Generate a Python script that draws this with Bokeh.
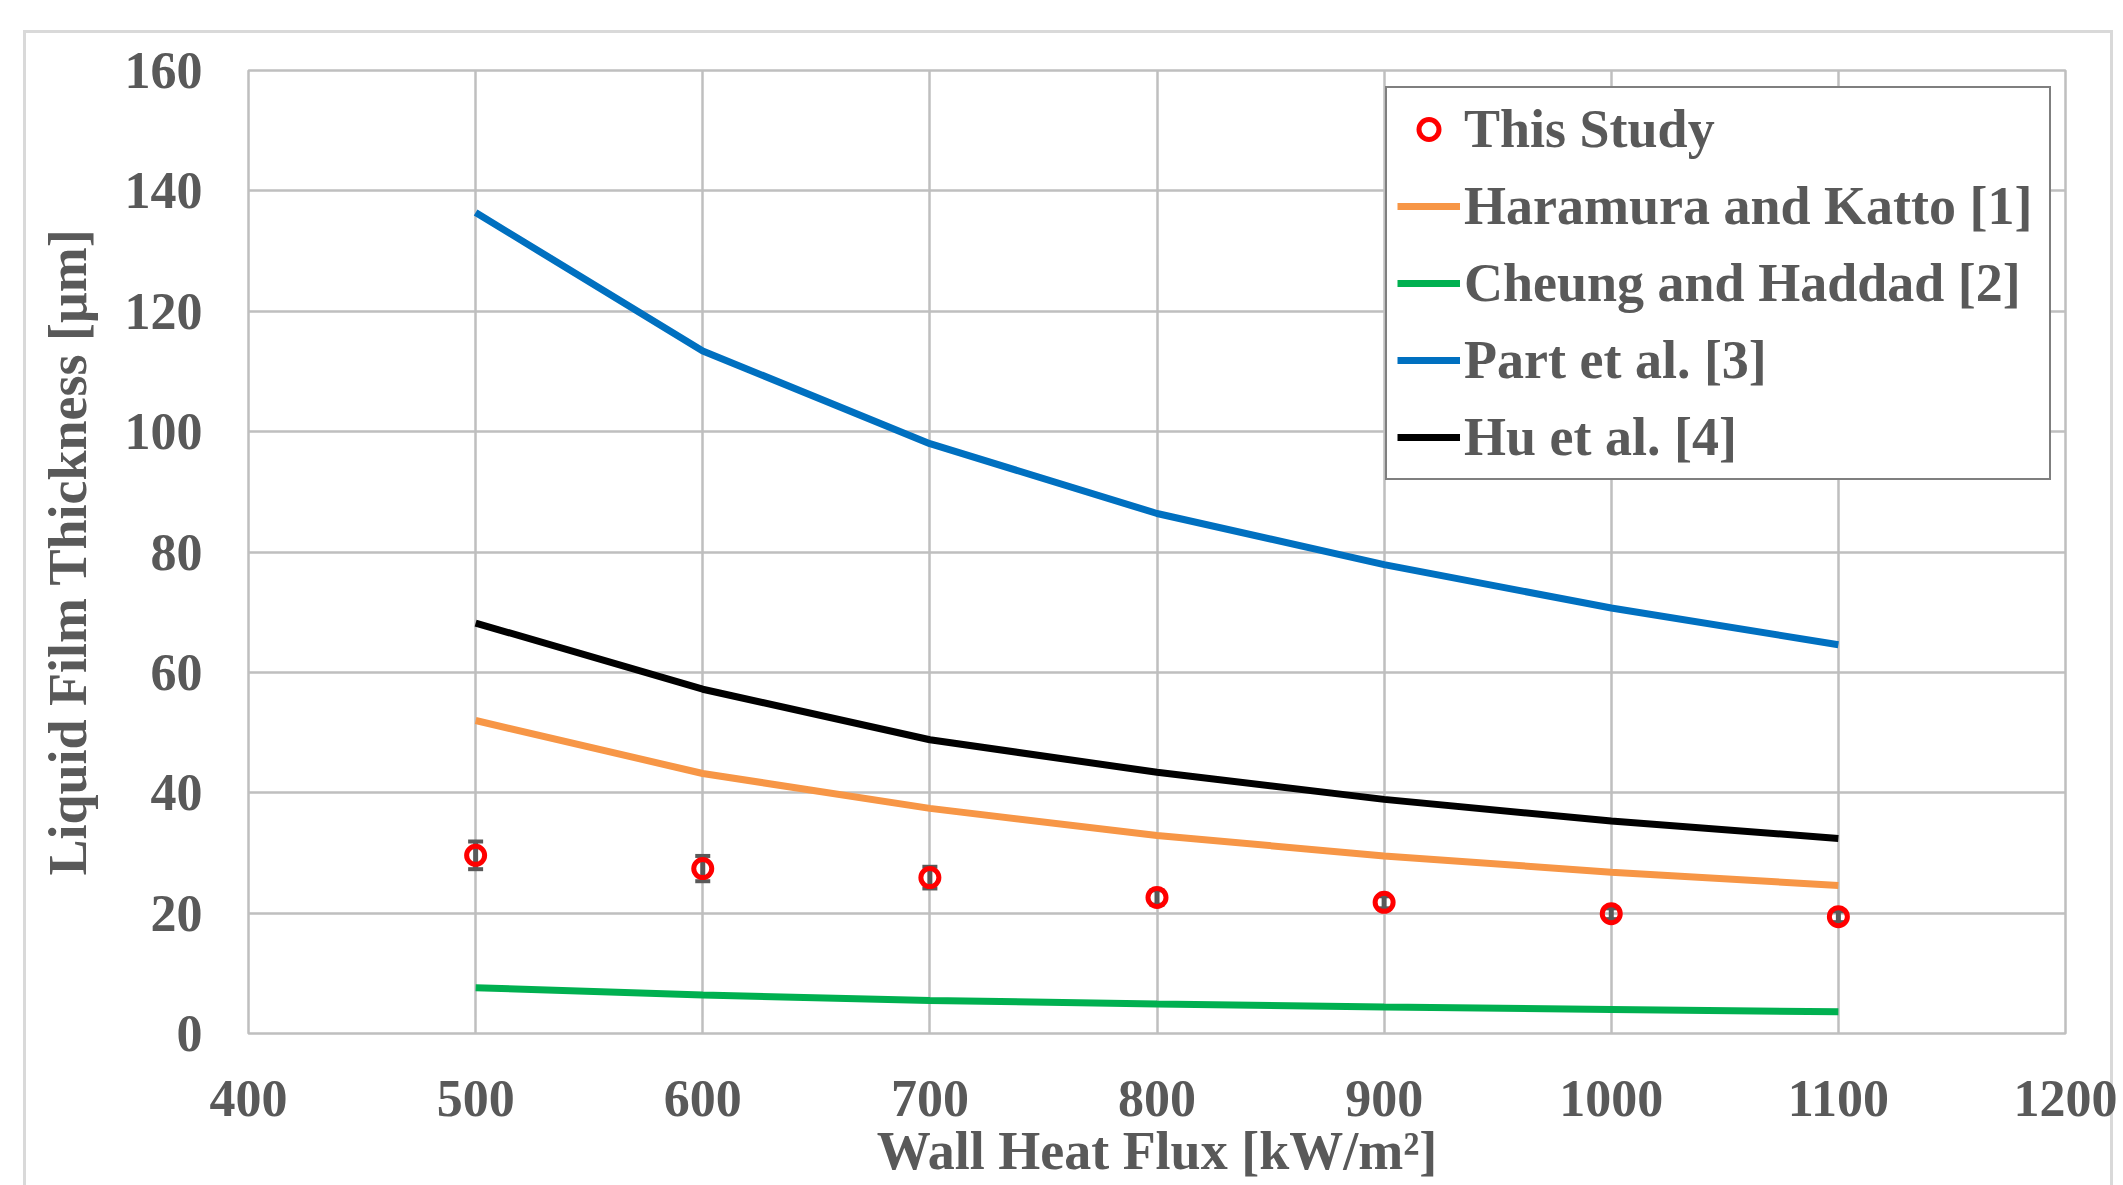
from bokeh.plotting import figure
from bokeh.models import (ColumnDataSource, FixedTicker, Legend, LegendItem,
                          Whisker, TeeHead, Range1d)
from bokeh.embed import file_html
from bokeh.resources import INLINE

# ---- data ----
heat_flux = [500, 600, 700, 800, 900, 1000, 1100]
this_study = [29.6, 27.4, 25.9, 22.6, 21.8, 19.9, 19.4]
this_study_err = [2.3, 2.1, 1.8, 1.2, 1.0, 0.9, 0.9]
haramura_katto = [52.0, 43.2, 37.4, 32.9, 29.5, 26.8, 24.6]
cheung_haddad = [7.6, 6.4, 5.5, 4.9, 4.4, 4.0, 3.6]
part_et_al = [136.4, 113.4, 98.0, 86.4, 77.9, 70.7, 64.6]
hu_et_al = [68.2, 57.2, 48.8, 43.4, 38.9, 35.3, 32.4]

x_ticks = [400, 500, 600, 700, 800, 900, 1000, 1100, 1200]
y_ticks = [0, 20, 40, 60, 80, 100, 120, 140, 160]

x_label = "Wall Heat Flux [kW/m²]"
y_label = "Liquid Film Thickness [μm]"
legend_labels = ["This Study", "Haramura and Katto [1]", "Cheung and Haddad [2]",
                 "Part et al. [3]", "Hu et al. [4]"]

FONT = "Liberation Serif"
TXT = "#595959"
GRID = "#BFBFBF"
BORDER = "#D9D9D9"

# outer chart border drawn as CSS background lines behind a transparent canvas
outer_styles = {
    "background-color": "white",
    "background-image": (f"linear-gradient({BORDER},{BORDER}), "
                         f"linear-gradient({BORDER},{BORDER}), "
                         f"linear-gradient({BORDER},{BORDER})"),
    "background-size": "2090px 3px, 3px 1300px, 3px 1300px",
    "background-position": "23px 30px, 23px 30px, 2110px 30px",
    "background-repeat": "no-repeat",
}

p = figure(width=2123, height=1185, output_backend="svg", toolbar_location=None,
           x_range=Range1d(400, 1200), y_range=Range1d(0, 160),
           min_border_left=248, min_border_top=70, min_border_right=58,
           min_border_bottom=152, styles=outer_styles)

p.background_fill_color = "white"
p.border_fill_alpha = 0
p.outline_line_color = GRID
p.outline_line_width = 2.5

for ax, ticks in ((p.xaxis, x_ticks), (p.yaxis, y_ticks)):
    ax.ticker = FixedTicker(ticks=ticks)
    ax.major_label_text_font = FONT
    ax.major_label_text_font_size = "52px"
    ax.major_label_text_font_style = "bold"
    ax.major_label_text_color = TXT
    ax.axis_label_text_font = FONT
    ax.axis_label_text_font_size = "54px"
    ax.axis_label_text_font_style = "bold"
    ax.axis_label_text_color = TXT
    ax.major_tick_line_color = None
    ax.minor_tick_line_color = None
    ax.axis_line_color = None

p.xaxis.axis_label = x_label
p.yaxis.axis_label = y_label
p.xaxis.major_label_standoff = 41
p.xaxis.axis_label_standoff = 2
p.yaxis.major_label_standoff = 40
p.yaxis.axis_label_standoff = 24

p.xgrid.ticker = FixedTicker(ticks=x_ticks)
p.ygrid.ticker = FixedTicker(ticks=y_ticks)
p.grid.grid_line_color = GRID
p.grid.grid_line_width = 2.5

src = ColumnDataSource(dict(
    x=heat_flux, ts=this_study,
    lo=[v - e for v, e in zip(this_study, this_study_err)],
    hi=[v + e for v, e in zip(this_study, this_study_err)],
    hk=haramura_katto, ch=cheung_haddad, pa=part_et_al, hu=hu_et_al))

lw = 7
r_hk = p.line("x", "hk", source=src, line_color="#F79646", line_width=lw)
r_ch = p.line("x", "ch", source=src, line_color="#00B050", line_width=lw)
r_pa = p.line("x", "pa", source=src, line_color="#0070C0", line_width=lw)
r_hu = p.line("x", "hu", source=src, line_color="#000000", line_width=lw)

wh = Whisker(base="x", upper="hi", lower="lo", source=src,
             line_color=TXT, line_width=5,
             upper_head=TeeHead(size=15, line_color=TXT, line_width=4),
             lower_head=TeeHead(size=15, line_color=TXT, line_width=4))
p.add_layout(wh)

r_ts = p.scatter("x", "ts", source=src, marker="circle", size=18,
                 line_color="#FF0000", line_width=5, fill_alpha=0)

legend = Legend(items=[LegendItem(label=legend_labels[0], renderers=[r_ts]),
                       LegendItem(label=legend_labels[1], renderers=[r_hk]),
                       LegendItem(label=legend_labels[2], renderers=[r_ch]),
                       LegendItem(label=legend_labels[3], renderers=[r_pa]),
                       LegendItem(label=legend_labels[4], renderers=[r_hu])],
                location=(1137, 553))
legend.label_text_font = FONT
legend.label_text_font_size = "54px"
legend.label_text_font_style = "bold"
legend.label_text_color = TXT
legend.glyph_width = 63
legend.glyph_height = 50
legend.label_height = 50
legend.label_width = 575
legend.label_standoff = 4
legend.spacing = 15
legend.padding = 10
legend.margin = 0
legend.border_line_color = "black"
legend.border_line_width = 2.5
legend.background_fill_color = "white"
legend.background_fill_alpha = 1
p.add_layout(legend)

open("out.html", "w").write(file_html(p, INLINE))
